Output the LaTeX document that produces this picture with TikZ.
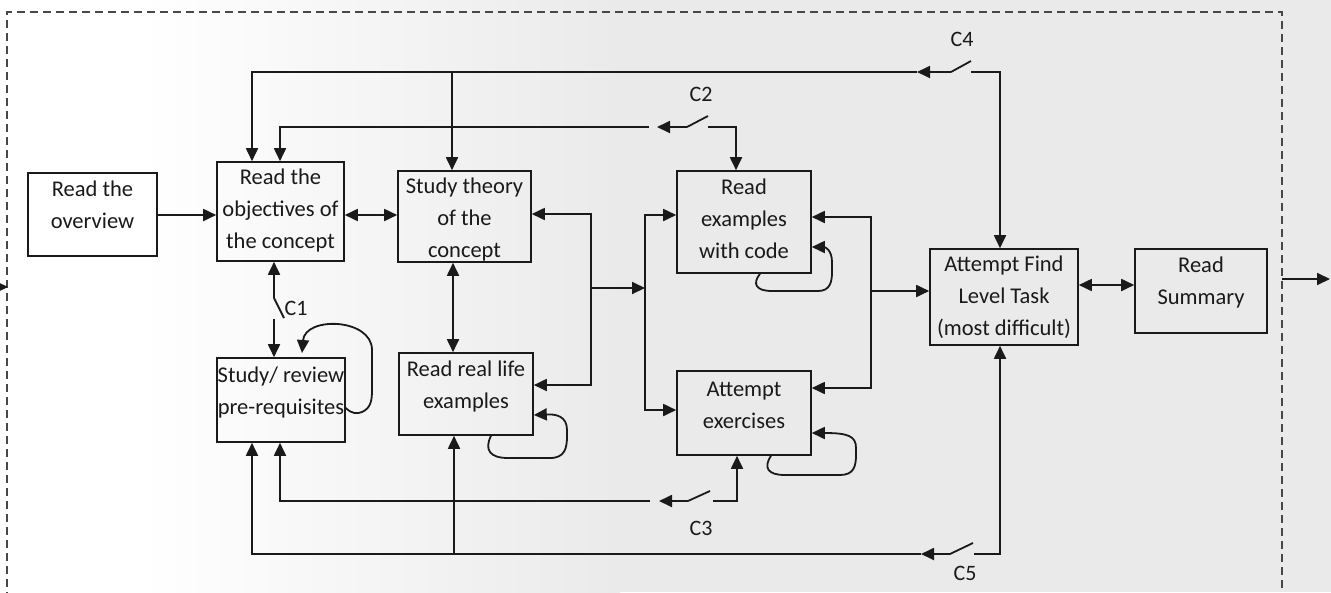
\documentclass[tikz,border=0pt]{standalone}
\usepackage{fontspec}
\setmainfont{Carlito}
\usetikzlibrary{arrows.meta}
\definecolor{ink}{HTML}{1A1A1A}
\definecolor{bggray}{HTML}{EAEAEA}
\tikzset{
  box/.style={draw=ink, line width=1.6pt, rectangle, inner sep=0pt},
  txt/.style={text=ink, align=center, inner sep=0pt, font=\fontsize{22.5}{32}\selectfont},
  lbl/.style={text=ink, inner sep=0pt, font=\fontsize{22}{24}\selectfont},
  ln/.style={draw=ink, line width=1.8pt},
  arr/.style={ln, -{Triangle[length=13pt,width=12pt]}},
  darr/.style={ln, {Triangle[length=13pt,width=12pt]}-{Triangle[length=13pt,width=12pt]}},
  border/.style={draw=ink!80, line width=1.5pt, dash pattern=on 8pt off 5pt}
}
\begin{document}
\begin{tikzpicture}[x=1pt,y=-1pt]
\useasboundingbox (0,0) rectangle (1331,592);
% background
\fill[white] (0,0) rectangle (1331,592);
\shade[left color=white, right color=bggray] (140,0) rectangle (620,592);
\fill[bggray] (620,0) rectangle (1331,592);
% dashed frame
\draw[border] (7,600) -- (7,12) -- (1282,12) -- (1282,600);

% boxes
\node[box, minimum width=129pt, minimum height=83pt] (ov)  at (92.5,214.5) {};
\node[box, minimum width=127pt, minimum height=99pt] (obj) at (280.5,211.5) {};
\node[box, minimum width=133pt, minimum height=91pt] (th)  at (464.5,216.5) {};
\node[box, minimum width=134pt, minimum height=102pt] (ex) at (744,222) {};
\node[box, minimum width=134pt, minimum height=84pt] (att) at (744,413) {};
\node[box, minimum width=148pt, minimum height=96pt] (fin) at (1004,297) {};
\node[box, minimum width=132pt, minimum height=84pt] (sum) at (1201,291) {};
\node[box, minimum width=128pt, minimum height=84pt] (pre) at (281,400) {};
\node[box, minimum width=134pt, minimum height=82pt] (rl)  at (466,394) {};

% texts
\node[txt] (ovt)  at (92.5,205) {Read the\\overview};
\node[txt] (objt) at (280.5,210) {Read the\\objectives of\\the concept};
\node[txt] (tht)  at (464.5,219) {Study theory\\of the\\concept};
\node[txt] (ext)  at (744,219) {Read\\examples\\with code};
\node[txt] (attt) at (744,405) {Attempt\\exercises};
\node[txt] (fint) at (1004,297) {Attempt Find\\Level Task\\(most difficult)};
\node[txt] (sumt) at (1201,282) {Read\\Summary};
\node[txt] (pret) at (281,392) {Study/ review\\pre-requisites};
\node[txt] (rlt)  at (466,386) {Read real life\\examples};

% switch labels
\node[lbl] (c1) at (296,308) {C1};
\node[lbl] (c2) at (701,94) {C2};
\node[lbl] (c3) at (701,528) {C3};
\node[lbl] (c4) at (962,39) {C4};
\node[lbl] (c5) at (965,573) {C5};

% free ends
\coordinate (inL) at (0,287);
\coordinate (inR) at (8,287);
\coordinate (outL) at (1282,279);
\coordinate (outR) at (1330,279);
\draw[arr] (inL) -- (inR);
\draw[arr] (outL) -- (outR);

% main flow
\draw[arr] (ov.east |- 0,215) -- (obj.west |- 0,215);
\draw[darr] (obj.east |- 0,215) -- (th.west |- 0,215);
\draw[darr] (th.south -| 453,0) -- (rl.north -| 453,0);

% from theory / real life to merge
\draw[arr] (591,288) -- (591,214) -- (th.east |- 0,214);
\draw[arr] (591,288) -- (591,385) -- (rl.east |- 0,385);
\draw[arr] (591,288) -- (645,288);
\draw[arr] (645,288) -- (645,215) -- (ex.west |- 0,215);
\draw[arr] (645,288) -- (645,410) -- (att.west |- 0,410);

% right merge
\draw[arr] (871,291) -- (871,217) -- (ex.east |- 0,217);
\draw[arr] (871,291) -- (871,388) -- (att.east |- 0,388);
\draw[arr] (871,291) -- (fin.west |- 0,291);
\draw[darr] (fin.east |- 0,285) -- (sum.west |- 0,285);

% C1
\draw[arr] (274,298) -- (obj.south -| 274,0);
\draw[ln] (274,298) -- (284,318);
\draw[arr] (274,319) -- (pre.north -| 274,0);

% C4
\draw[arr] (971,72) -- (1000,72) -- (fin.north -| 1000,0);
\draw[ln] (951,72) -- (971,61);
\draw[arr] (951,72) -- (917,72);
\draw[arr] (917,72) -- (252,72) -- (obj.north -| 252,0);
\draw[arr] (452,72) -- (th.north -| 452,0);

% C2
\draw[arr] (708,127) -- (736,127) -- (ex.north -| 736,0);
\draw[ln] (687,127) -- (708,116);
\draw[arr] (687,127) -- (657,127);
\draw[arr] (649,127) -- (280,127) -- (obj.north -| 280,0);

% C3
\draw[arr] (713,501) -- (737,501) -- (att.south -| 737,0);
\draw[ln] (688,501) -- (710,491);
\draw[arr] (688,501) -- (659,501);
\draw[arr] (650,501) -- (280,501) -- (pre.south -| 280,0);

% C5
\draw[arr] (974,554) -- (1000,554) -- (fin.south -| 1000,0);
\draw[ln] (950,554) -- (973,543);
\draw[arr] (950,554) -- (921,554);
\draw[arr] (921,554) -- (252,554) -- (pre.south -| 252,0);
\draw[arr] (454,554) -- (rl.south -| 454,0);

% self loops
\draw[arr] (pre.east |- 0,408) .. controls (352,414) and (357,414) .. (362,412)
  .. controls (371,408) and (372,400) .. (372,390) -- (372,350)
  .. controls (372,318) and (305,316) .. (302,353);
\draw[arr] (rl.south -| 491,0) .. controls (484,450) and (490,458) .. (508,458) -- (550,458)
  .. controls (565,458) and (567,448) .. (567,436) -- (567,430)
  .. controls (567,416) and (556,414) .. (rl.east |- 0,415);
\draw[arr] (ex.south -| 760,0) .. controls (752,284) and (756,291) .. (772,291) -- (818,291)
  .. controls (830,291) and (832,282) .. (832,272) -- (832,262)
  .. controls (832,250) and (825,247) .. (ex.east |- 0,247);
\draw[arr] (att.south -| 771,0) .. controls (763,468) and (768,475) .. (785,475) -- (840,475)
  .. controls (854,475) and (856,466) .. (856,455) -- (856,448)
  .. controls (856,436) and (848,433) .. (att.east |- 0,433);
\end{tikzpicture}
\end{document}
